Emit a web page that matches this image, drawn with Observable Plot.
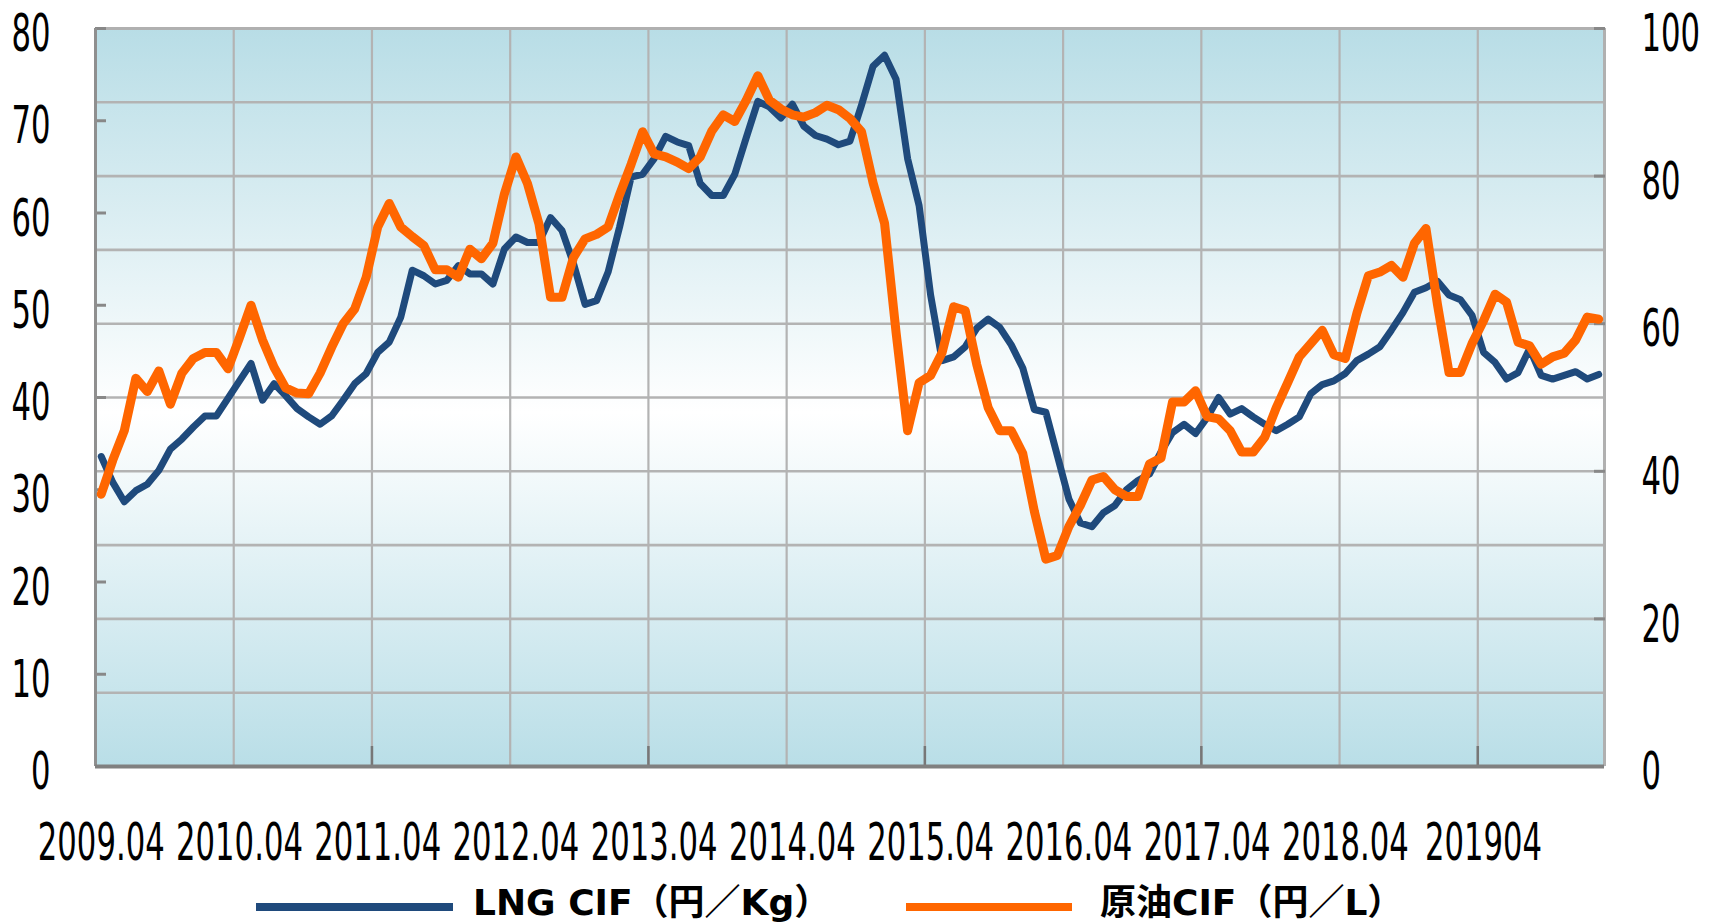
<!DOCTYPE html>
<html><head><meta charset="utf-8">
<script src="https://cdn.jsdelivr.net/npm/d3@7"></script>
<script src="https://cdn.jsdelivr.net/npm/@observablehq/plot@0.6"></script>
<style>
html,body{margin:0;padding:0;background:#fff;overflow:hidden}
#legend{position:relative;width:1713px;height:52px;font-family:"DejaVu Sans","Noto Sans CJK JP",sans-serif;font-weight:bold;font-size:36px;color:#000}
.sw{position:absolute;height:8px}
.lt{position:absolute;line-height:36px;white-space:nowrap}
</style></head><body><div id="chart"></div><div id="legend"></div>
<script>
// x-axis labels (one per April), placed at monthly index
const xLabels = ["2009.04","2010.04","2011.04","2012.04","2013.04","2014.04","2015.04","2016.04","2017.04","2018.04","201904"];
const xLabelIndex = [0,12,24,36,48,60,72,84,96,108,120];
// LNG CIF (円/Kg), monthly from 2009.04, left axis
const lng = [33.6,30.8,28.7,29.9,30.6,32.1,34.4,35.5,36.8,38.0,38.0,39.9,
41.8,43.7,39.7,41.5,40.2,38.8,37.9,37.1,38.0,39.7,41.5,42.6,
44.9,46.0,48.7,53.8,53.2,52.3,52.7,54.3,53.4,53.4,52.3,56.1,
57.4,56.8,56.8,59.5,58.1,54.5,50.1,50.5,53.6,58.5,63.9,64.2,
65.9,68.3,67.7,67.3,63.2,61.9,61.9,64.2,68.2,72.1,71.5,70.3,
71.8,69.4,68.4,68.0,67.4,67.8,71.7,75.9,77.1,74.5,65.9,60.8,
51.1,44.0,44.4,45.5,47.5,48.5,47.6,45.7,43.2,38.7,38.4,33.7,
29.0,26.4,26.0,27.5,28.3,30.0,31.0,31.7,34.1,36.2,37.1,36.1,
37.8,40.0,38.2,38.8,37.9,37.1,36.4,37.1,37.9,40.4,41.4,41.8,
42.6,44.0,44.7,45.5,47.3,49.2,51.4,51.9,52.6,51.1,50.6,48.9,
44.9,43.8,42.0,42.7,45.3,42.4,42.0,42.4,42.8,42.0,42.5];
// 原油CIF (円/L), monthly from 2009.04, right axis
const crude = [36.9,41.5,45.5,52.6,50.8,53.6,49.1,53.3,55.3,56.1,56.1,53.9,
58.1,62.5,57.8,54.1,51.3,50.6,50.5,53.3,56.8,60.0,62.0,66.3,
73.1,76.3,73.1,71.8,70.6,67.3,67.3,66.3,70.1,68.8,70.9,77.6,
82.6,79.0,73.5,63.6,63.6,69.0,71.5,72.1,73.1,77.5,81.6,86.0,
83.0,82.6,81.9,81.0,82.6,86.1,88.3,87.4,90.3,93.6,90.3,89.1,
88.3,88.0,88.6,89.6,89.0,87.8,86.0,79.1,73.6,58.8,45.5,52.0,
53.0,56.1,62.3,61.8,54.5,48.6,45.5,45.5,42.4,34.6,28.1,28.6,
32.5,35.4,38.8,39.3,37.5,36.6,36.6,41.0,41.8,49.4,49.4,50.9,
47.4,47.1,45.5,42.6,42.6,44.6,48.6,52.0,55.5,57.3,59.1,55.8,
55.3,61.4,66.5,67.0,67.9,66.3,70.9,72.9,62.6,53.4,53.4,57.3,
60.4,64.0,62.9,57.5,57.0,54.5,55.5,56.0,57.8,60.9,60.6];
const leftTicks = [0,10,20,30,40,50,60,70,80];
const rightTicks = [0,20,40,60,80,100];
const seriesNames = ["LNG CIF（円／Kg）","原油CIF（円／L）"];
const seriesColors = ["#1f4a7c","#ff6600"];

const leftMax = 80, rightMax = 100, k = leftMax / rightMax;
const nMonths = lng.length;
const data = lng.map((v, i) => ({i, lng: v, crude: crude[i]}));
const yearBounds = d3.range(-0.5, nMonths, 12);          // April boundaries
const hGrid = d3.range(10, rightMax, 10).map(v => v * k); // right-axis grid
const W = 1713, H = 870;

const plot = Plot.plot({
  width: W, height: H,
  marginLeft: 95, marginRight: 109, marginTop: 28, marginBottom: H - 766,
  style: {fontFamily: "DejaVu Sans", background: "transparent", overflow: "visible", color: "#000"},
  x: {domain: [-0.5, nMonths - 0.5], axis: null},
  y: {domain: [0, leftMax], axis: null},
  marks: [
    Plot.frame({fill: "url(#bgGrad)", stroke: "none"}),
    Plot.gridY(hGrid, {stroke: "#b3b3b3", strokeOpacity: 1, strokeWidth: 2.6}),
    Plot.gridX(yearBounds.slice(1), {stroke: "#b3b3b3", strokeOpacity: 1, strokeWidth: 2.2}),
    Plot.ruleY([leftMax], {stroke: "#b0b0b0", strokeWidth: 3}),
    Plot.ruleX([nMonths - 0.5], {stroke: "#b0b0b0", strokeWidth: 3}),
    Plot.axisY(leftTicks.slice(1), {anchor: "left", tickSize: 11, dx: 11, tickFormat: () => "", stroke: "#888", strokeWidth: 3, label: null}),
    Plot.axisY(rightTicks.slice(1).map(v => v * k), {anchor: "right", tickSize: 11, dx: -11, tickFormat: () => "", stroke: "#888", strokeWidth: 3, label: null}),
    Plot.axisX(yearBounds.filter((d, j) => j % 2 === 0 && j > 0), {anchor: "bottom", tickSize: 20, dy: -20, tickFormat: () => "", stroke: "#777", strokeWidth: 2.5, label: null}),
    Plot.ruleX([-0.5], {stroke: "#8f8f8f", strokeWidth: 3}),
    Plot.ruleY([0], {stroke: "#808080", strokeWidth: 4}),
    Plot.line(data, {x: "i", y: "lng", stroke: seriesColors[0], strokeWidth: 7, strokeLinejoin: "round", strokeLinecap: "round"}),
    Plot.line(data, {x: "i", y: d => d.crude * k, stroke: seriesColors[1], strokeWidth: 9, strokeLinejoin: "round", strokeLinecap: "round"}),
    Plot.axisY(leftTicks, {anchor: "left", tickSize: 0, tickPadding: 45, fontSize: 52, dy: 6, label: null}),
    Plot.axisY(rightTicks.map(v => v * k), {anchor: "right", tickSize: 0, tickPadding: 37, fontSize: 52, dy: 6, tickFormat: v => String(Math.round(v / k)), label: null}),
    Plot.axisX(xLabelIndex, {anchor: "bottom", tickSize: 0, tickPadding: 57, fontSize: 52, tickFormat: d => xLabels[xLabelIndex.indexOf(d)], label: null})
  ]
});

// background gradient
const defs = d3.select(plot).insert("defs", ":first-child");
const grad = defs.append("linearGradient").attr("id", "bgGrad").attr("x1", 0).attr("y1", 0).attr("x2", 0).attr("y2", 1);
[[0, "#b8dde6"], [0.52, "#ffffff"], [1, "#b9dee7"]].forEach(([o, c]) => grad.append("stop").attr("offset", o).attr("stop-color", c));

document.getElementById("chart").appendChild(plot);

// condensed tick-label glyphs (narrow the advance, keep anchors)
plot.querySelectorAll('g[aria-label$="tick label"] text').forEach(t => {
  const len = t.getComputedTextLength();
  if (len > 0) {
    t.setAttribute("textLength", (len * 0.59).toFixed(1));
    t.setAttribute("lengthAdjust", "spacingAndGlyphs");
  }
});

// legend
const legend = document.getElementById("legend");
const legendLayout = [{lineX: 256, lineW: 197, textX: 473}, {lineX: 906, lineW: 166, textX: 1100}];
seriesNames.forEach((name, j) => {
  const sw = document.createElement("div");
  sw.className = "sw";
  sw.style.left = legendLayout[j].lineX + "px";
  sw.style.width = legendLayout[j].lineW + "px";
  sw.style.top = "33px";
  sw.style.background = seriesColors[j];
  legend.appendChild(sw);
  const tx = document.createElement("div");
  tx.className = "lt";
  tx.style.left = legendLayout[j].textX + "px";
  tx.style.top = "15px";
  tx.textContent = name;
  legend.appendChild(tx);
});
</script></body></html>
